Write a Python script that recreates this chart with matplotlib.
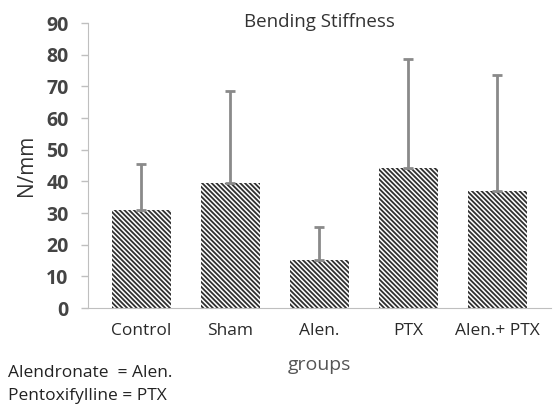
import matplotlib
matplotlib.use('Agg')
import matplotlib.pyplot as plt
import numpy as np

# bending stiffness per group (N/mm), upper error only
groups = ['Control', 'Sham', 'Alen.', 'PTX', 'Alen.+ PTX']
means = [31, 39.5, 15.2, 44.2, 37]
errs = [14.5, 29, 10.3, 34.3, 36.5]
yticks = [0, 10, 20, 30, 40, 50, 60, 70, 80, 90]

plt.rcParams['font.family'] = ['Open Sans', 'DejaVu Sans']
plt.rcParams['hatch.linewidth'] = 1.3

fig = plt.figure(figsize=(5.55, 4.05), dpi=100)
ax = fig.add_axes([0.1586, 0.2395, 0.834, 0.7037])

x = np.arange(len(groups))
ax.bar(x, means, width=0.67, color='white', edgecolor='#303030',
       linewidth=0, hatch='\\' * 7)
ax.errorbar(x, means, yerr=[np.zeros(len(errs)), errs], fmt='none',
            ecolor='#8a8a8a', elinewidth=2, capsize=3.3, capthick=2)

ax.set_xlim(-0.6, 4.6)
ax.set_ylim(0, 90)
ax.set_yticks(yticks)
ax.set_xticks(x)
ax.set_xticklabels(groups, fontsize=12.5, color='#2a2a2a')
for lab in ax.get_yticklabels():
    lab.set_fontweight('bold')
ax.tick_params(axis='y', labelsize=14, labelcolor='#444444', length=5,
               color='#bfbfbf', width=1, pad=9)
ax.tick_params(axis='x', length=0, pad=11)

for s in ['top', 'right']:
    ax.spines[s].set_visible(False)
ax.spines['left'].set_color('#bfbfbf')
ax.spines['bottom'].set_color('#bfbfbf')

ax.set_ylabel('N/mm', fontsize=15, color='#333333')
ax.yaxis.set_label_coords(-0.11, 0.5)
ax.set_xlabel('groups', fontsize=14, color='#555555', labelpad=12)
ax.set_title('Bending Stiffness', fontsize=13.5, color='#333333', pad=0,
             y=0.985)

fig.text(0.015, 0.07, 'Alendronate  = Alen.', fontsize=12.5, color='#222222')
fig.text(0.015, 0.013, 'Pentoxifylline = PTX', fontsize=12.5, color='#222222')

fig.savefig('out.png', dpi=100)
